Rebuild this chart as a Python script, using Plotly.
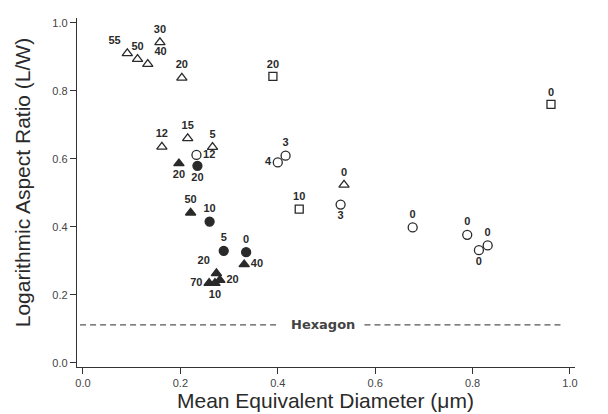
import plotly.graph_objects as go

# ---- data ----
open_tri_x = [0.091, 0.112, 0.133, 0.158, 0.203, 0.162, 0.215, 0.266, 0.536]
open_tri_y = [0.910, 0.893, 0.878, 0.942, 0.838, 0.635, 0.660, 0.634, 0.523]
open_tri_lbl = ["55", "50", "40", "30", "20", "12", "15", "5", "0"]

open_circ_x = [0.233, 0.416, 0.400, 0.529, 0.677, 0.789, 0.831, 0.813]
open_circ_y = [0.611, 0.609, 0.589, 0.465, 0.398, 0.376, 0.345, 0.331]
open_circ_lbl = ["12", "3", "4", "3", "0", "0", "0", "0"]

open_sq_x = [0.390, 0.444, 0.961]
open_sq_y = [0.842, 0.452, 0.760]
open_sq_lbl = ["20", "10", "0"]

fill_circ_x = [0.235, 0.260, 0.289, 0.335]
fill_circ_y = [0.579, 0.415, 0.329, 0.325]
fill_circ_lbl = ["20", "10", "5", "0"]

fill_tri_x = [0.197, 0.221, 0.331, 0.274, 0.281, 0.259, 0.271]
fill_tri_y = [0.586, 0.441, 0.289, 0.263, 0.243, 0.234, 0.234]
fill_tri_lbl = ["20", "50", "40", "20", "20", "70", "10"]

hexagon_y = 0.111
x_ticks = [0.0, 0.2, 0.4, 0.6, 0.8, 1.0]
y_ticks = [0.0, 0.2, 0.4, 0.6, 0.8, 1.0]

# ---- label placement (style) ----
open_tri_pos = ["top left", "top center", "top right", "top center", "top center",
                "top center", "top center", "top center", "top center"]
open_circ_pos = ["middle right", "top center", "middle left", "bottom center",
                 "top center", "top center", "top center", "bottom center"]
open_sq_pos = ["top center", "top center", "top center"]
fill_circ_pos = ["bottom center", "top center", "top center", "top center"]
fill_tri_pos = ["bottom center", "top center", "middle right", "top left",
                "middle right", "middle left", "bottom center"]

INK = "#2a2a2a"
lbl_font = dict(family="Liberation Sans, Arial, sans-serif", size=11, color=INK, weight="bold")

fig = go.Figure()

def add(xs, ys, lbls, pos, symbol, size):
    fig.add_trace(go.Scatter(
        x=xs, y=ys, text=lbls, mode="markers+text", textposition=pos,
        textfont=lbl_font, cliponaxis=False,
        marker=dict(symbol=symbol, size=size, color=INK,
                    line=dict(color=INK, width=1.3)),
        showlegend=False, hoverinfo="skip"))

add(open_tri_x, open_tri_y, open_tri_lbl, open_tri_pos, "triangle-up-open", 9)
add(open_circ_x, open_circ_y, open_circ_lbl, open_circ_pos, "circle-open", 9)
add(open_sq_x, open_sq_y, open_sq_lbl, open_sq_pos, "square-open", 8)
add(fill_circ_x, fill_circ_y, fill_circ_lbl, fill_circ_pos, "circle", 9)
add(fill_tri_x, fill_tri_y, fill_tri_lbl, fill_tri_pos, "triangle-up", 9)

# hexagon reference line with gap for its label
dash = dict(color="#555555", width=1.2, dash="6px,4px")
fig.add_shape(type="line", xref="x", yref="y", x0=-0.006, x1=0.40, y0=hexagon_y, y1=hexagon_y, line=dash)
fig.add_shape(type="line", xref="x", yref="y", x0=0.578, x1=0.985, y0=hexagon_y, y1=hexagon_y, line=dash)
fig.add_annotation(x=0.493, y=hexagon_y, xref="x", yref="y", text="Hexagon", showarrow=False,
                   font=dict(family="DejaVu Sans, sans-serif", size=13, color="#444444", weight="bold"))

# axis titles
fig.add_annotation(x=-0.110, y=0.527, xref="paper", yref="paper", text="Logarithmic Aspect Ratio (L/W)",
                   textangle=-90, showarrow=False, xanchor="center", yanchor="middle",
                   font=dict(family="Liberation Sans, Arial, sans-serif", size=21, color=INK))
fig.add_annotation(x=0.498, y=-0.097, xref="paper", yref="paper", text="Mean Equivalent Diameter (\u03bcm)",
                   showarrow=False, xanchor="center", yanchor="middle",
                   font=dict(family="Liberation Sans, Arial, sans-serif", size=21, color=INK))

axis_common = dict(showline=True, linecolor="#333333", linewidth=1.3, ticks="outside",
                   ticklen=6, tickwidth=1.2, tickcolor="#333333", showgrid=False, zeroline=False,
                   tickformat=".1f", mirror=False,
                   tickfont=dict(family="Liberation Sans, Arial, sans-serif", size=11, color="#444444"))

fig.update_xaxes(range=[-0.0123, 1.0103], tickvals=x_ticks, **axis_common)
fig.update_yaxes(range=[-0.0126, 1.0138], tickvals=y_ticks, **axis_common)

# page body has an 8px margin, so the figure is sized/offset to compensate
fig.update_layout(width=592, height=406, margin=dict(l=69, r=25, t=10, b=47),
                  plot_bgcolor="white", paper_bgcolor="white")

fig.write_html("out.html")
